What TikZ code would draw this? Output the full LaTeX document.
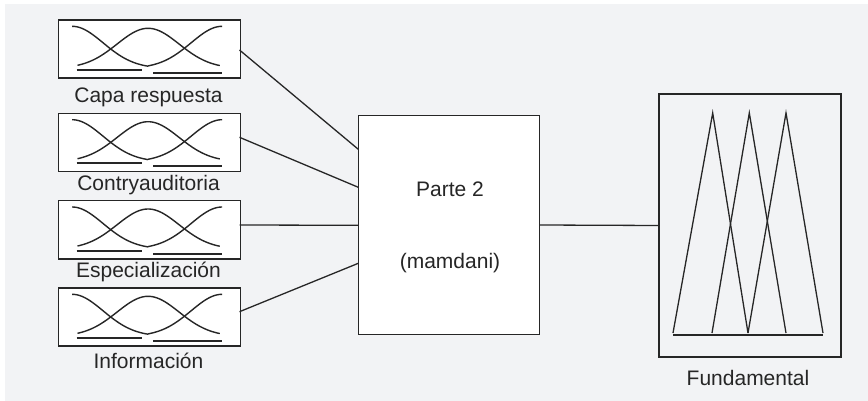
\documentclass[tikz,border=0pt]{standalone}
\usepackage{fontspec}
\setmainfont{Liberation Sans}
\definecolor{bgc}{HTML}{F2F3F5}
\definecolor{ink}{HTML}{262626}
\begin{document}
\begin{tikzpicture}[x=1pt,y=-1pt,
  every node/.style={text=ink},
  lbl/.style={font=\fontsize{21}{25}\selectfont, inner sep=0pt},
  inbox/.style={draw=ink, line width=1.5pt, fill=white, minimum width=182pt, minimum height=58pt, anchor=north west, inner sep=0pt},
  conn/.style={draw=ink, line width=1.3pt},
  curve/.style={draw=ink, line width=1.4pt},
  uline/.style={draw=ink, line width=2pt},
  mfs/.pic={
    \draw[curve] plot[domain=14.6:90.6, samples=40, smooth] (\x, {49-42*exp(-((\x-14.6)^2)/1922)});
    \draw[curve] plot[domain=90.6:164.6, samples=40, smooth] (\x, {49-42*exp(-((\x-164.6)^2)/1922)});
    \draw[curve] plot[domain=20:162.3, samples=60, smooth] (\x, {49-40*exp(-((\x-90.6)^2)/1922)});
    \draw[uline] (19,50.8) -- (84.6,50.8);
    \draw[uline] (95.6,53.5) -- (164,53.5);
  }]
\useasboundingbox (0,0) rectangle (868,401);
\fill[white] (0,0) rectangle (868,401);
\fill[bgc] (5,4) rectangle (868,401);

% input boxes
\node[inbox] (b1) at (57.5,19.3) {};
\node[inbox] (b2) at (57.5,112.7) {};
\node[inbox] (b3) at (57.5,200) {};
\node[inbox] (b4) at (57.5,287.3) {};
\pic at (b1.north west) {mfs};
\pic at (b2.north west) {mfs};
\pic at (b3.north west) {mfs};
\pic at (b4.north west) {mfs};

\node[lbl] (l1) at (148.5,97.7) {Capa respuesta};
\node[lbl] (l2) at (148.5,185) {Contryauditoria};
\node[lbl] (l3) at (148.5,271.7) {Especialización};
\node[lbl] (l4) at (148.5,360.7) {Información};

% middle box
\node[draw=ink, line width=1.5pt, fill=white, minimum width=181pt, minimum height=218.6pt, inner sep=0pt] (m) at (448.8,225) {};
\node[lbl] (t1) at (450,189) {Parte 2};
\node[lbl] (t2) at (450,263) {(mamdani)};

% output box
\node[draw=ink, line width=1.5pt, minimum width=182pt, minimum height=263pt, inner sep=0pt] (f) at (750,225.5) {};
\node[lbl] (lf) at (748,378) {Fundamental};

% connectors
\coordinate (o1) at (239.5,50);
\coordinate (o2) at (239.5,137.3);
\coordinate (o3) at (239.5,225);
\coordinate (o4) at (239.5,311.7);
\coordinate (i1) at (358.3,149.3);
\coordinate (i2) at (358.3,187.3);
\coordinate (i3) at (358.3,225.3);
\coordinate (i4) at (358.3,263.3);
\draw[conn] (o1) -- (i1);
\draw[conn] (o2) -- (i2);
\draw[conn] (o3) -- (i3);
\draw[conn] (o4) -- (i4);
\draw[conn] (m.east) -- (f.west);

% triangles
\draw[ink, line width=1.3pt] (673,333) -- (712.7,113) -- (748,333);
\draw[ink, line width=1.3pt] (712,333) -- (749.3,113) -- (786,333);
\draw[ink, line width=1.3pt] (748,333) -- (786,113) -- (823,333);
\draw[ink, line width=2pt] (673,334.5) -- (823,334.5);
\end{tikzpicture}
\end{document}
